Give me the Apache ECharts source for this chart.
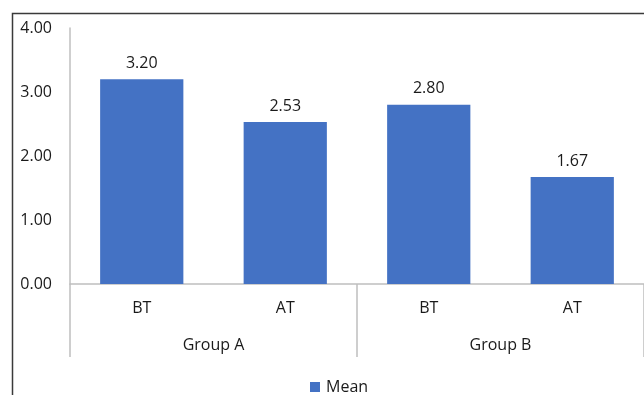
<!DOCTYPE html>
<html>
<head>
<meta charset="utf-8">
<script src="https://cdn.jsdelivr.net/npm/echarts@6/dist/echarts.min.js"></script>
<style>
  html, body { margin: 0; padding: 0; background: #fff; }
  #chart { width: 644px; height: 395px; }
</style>
</head>
<body>
<div id="chart"></div>
<script>
// Mean score before (BT) and after (AT) treatment, per group
const categories = ['BT', 'AT', 'BT', 'AT'];
const groups = ['Group A', 'Group B'];
const meanValues = [3.20, 2.53, 2.80, 1.67];
const yTicks = { min: 0, max: 4, step: 1 };

const FONT = '"Open Sans", "Liberation Sans", sans-serif';
const BAR_COLOR = '#4472C4';
const AXIS_GREY = '#BFBFBF';

const chart = echarts.init(document.getElementById('chart'), null, { renderer: 'canvas' });

chart.setOption({
  animation: false,
  backgroundColor: '#fff',
  textStyle: { fontFamily: FONT },
  graphic: [{
    // outer chart frame
    type: 'rect',
    left: 10, top: 11,
    shape: { width: 700, height: 450 },
    style: { fill: 'none', stroke: '#3A3A3A', lineWidth: 1.5 },
    silent: true
  }],
  grid: { left: 70, right: -2, top: 28, bottom: 111, containLabel: false },
  legend: {
    top: 374,
    left: 305,
    itemWidth: 10,
    itemHeight: 10,
    icon: 'rect',
    itemGap: 6,
    textStyle: { fontFamily: FONT, fontSize: 16, color: '#1a1a1a', padding: [0, 0, 0, 1] },
    data: ['Mean']
  },
  xAxis: [{
    type: 'category',
    data: categories,
    position: 'bottom',
    axisLine: { show: true, lineStyle: { color: AXIS_GREY, width: 1.5 } },
    axisTick: { show: false },
    axisLabel: { margin: 16, fontFamily: FONT, fontSize: 16, color: '#1a1a1a' }
  }, {
    type: 'category',
    data: groups,
    position: 'bottom',
    axisLine: { show: false },
    axisTick: { show: true, length: 73, lineStyle: { color: AXIS_GREY, width: 1.5 } },
    axisLabel: { margin: 53, fontFamily: FONT, fontSize: 16, color: '#1a1a1a' }
  }],
  yAxis: {
    type: 'value',
    min: yTicks.min,
    max: yTicks.max,
    interval: yTicks.step,
    axisLine: { show: true, lineStyle: { color: AXIS_GREY, width: 1.5 } },
    axisTick: { show: false },
    splitLine: { show: false },
    axisLabel: {
      margin: 18,
      fontFamily: FONT, fontSize: 16, color: '#1a1a1a',
      formatter: v => v.toFixed(2)
    }
  },
  series: [{
    name: 'Mean',
    type: 'bar',
    xAxisIndex: 0,
    data: meanValues,
    barWidth: '58%',
    itemStyle: { color: BAR_COLOR },
    label: {
      show: true,
      position: 'top',
      distance: 8,
      fontFamily: FONT, fontSize: 16, color: '#1a1a1a',
      formatter: p => p.value.toFixed(2)
    }
  }]
});
</script>
</body>
</html>
